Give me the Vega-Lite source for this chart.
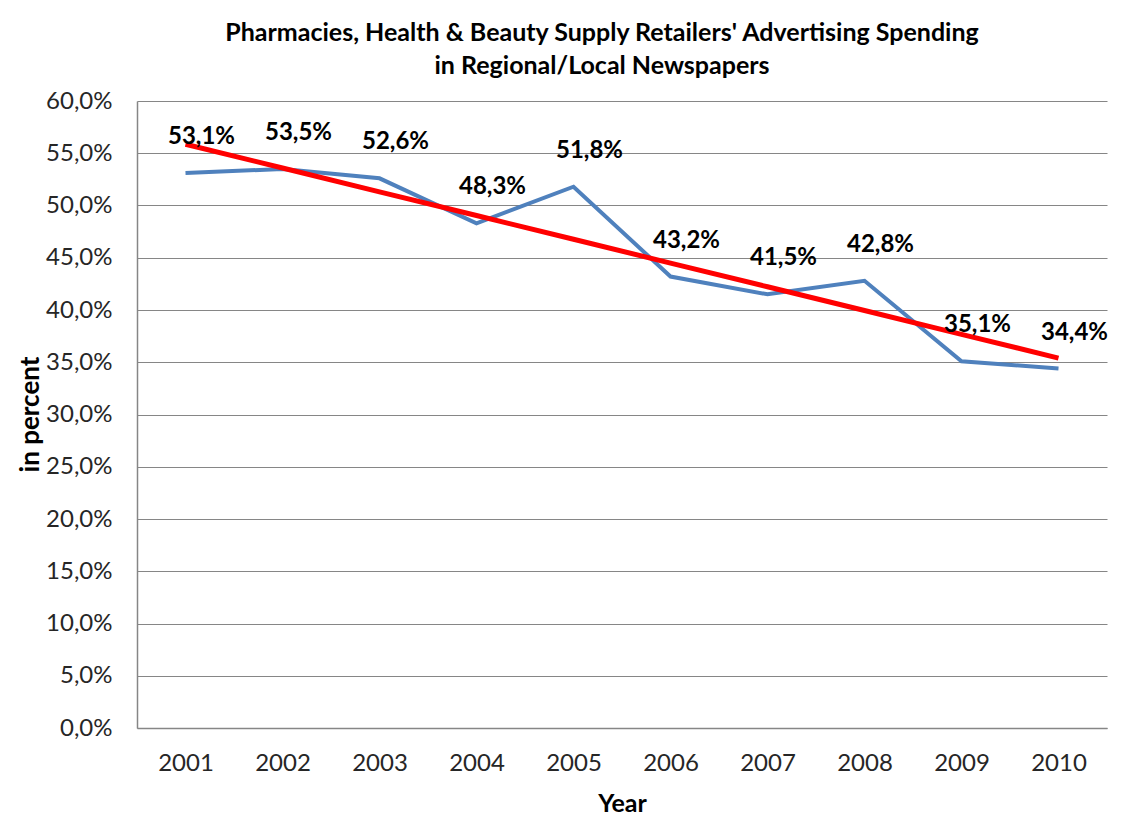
{
  "$schema": "https://vega.github.io/schema/vega-lite/v6.json",
  "width": 970,
  "height": 627,
  "autosize": {"type": "none"},
  "padding": {"left": 137, "top": 101, "right": 15, "bottom": 106},
  "background": "white",
  "title": {
    "text": ["Pharmacies, Health & Beauty Supply Retailers' Advertising Spending", "in Regional/Local Newspapers"],
    "font": "Lato",
    "fontSize": 25,
    "fontWeight": "bold",
    "color": "#000000",
    "anchor": "middle",
    "dx": -20,
    "offset": 10,
    "lineHeight": 33
  },
  "data": {
    "values": [
      {"year": "2001", "value": 0.531, "trend": 0.5586},
      {"year": "2002", "value": 0.535, "trend": 0.5359},
      {"year": "2003", "value": 0.526, "trend": 0.5131},
      {"year": "2004", "value": 0.483, "trend": 0.4904},
      {"year": "2005", "value": 0.518, "trend": 0.4677},
      {"year": "2006", "value": 0.432, "trend": 0.4449},
      {"year": "2007", "value": 0.415, "trend": 0.4222},
      {"year": "2008", "value": 0.428, "trend": 0.3995},
      {"year": "2009", "value": 0.351, "trend": 0.3767},
      {"year": "2010", "value": 0.344, "trend": 0.3540}
    ]
  },
  "encoding": {
    "x": {
      "field": "year",
      "type": "ordinal",
      "scale": {"type": "point", "padding": 0.5},
      "axis": {
        "title": "Year",
        "labelAngle": 0,
        "labelFont": "Lato",
        "labelFontSize": 24,
        "labelColor": "#262626",
        "labelPadding": 23,
        "ticks": false,
        "grid": false,
        "domainColor": "#868686",
        "domainWidth": 1.5,
        "titleFont": "Lato",
        "titleFontSize": 25,
        "titleFontWeight": "bold",
        "titleColor": "#000000",
        "titleX": 485,
        "titleY": 75,
        "titleBaseline": "middle",
        "titleAlign": "center"
      }
    }
  },
  "layer": [
    {
      "mark": {"type": "line", "color": "#4F81BD", "strokeWidth": 4},
      "encoding": {
        "y": {
          "field": "value",
          "type": "quantitative",
          "scale": {"domain": [0, 0.6], "nice": false},
          "axis": {
            "title": "in percent",
            "values": [0, 0.05, 0.1, 0.15, 0.2, 0.25, 0.3, 0.35, 0.4, 0.45, 0.5, 0.55, 0.6],
            "format": ".1%",
            "labelFont": "Lato",
            "labelFontSize": 24,
            "labelColor": "#262626",
            "labelPadding": 25,
            "ticks": false,
            "grid": true,
            "gridColor": "#868686",
            "gridWidth": 1.2,
            "domainColor": "#868686",
            "domainWidth": 1.5,
            "titleFont": "Lato",
            "titleFontSize": 26,
            "titleFontWeight": "bold",
            "titleColor": "#000000",
            "titleX": -107,
            "titleY": 313,
            "titleAngle": -90,
            "titleBaseline": "middle",
            "titleAlign": "center"
          }
        }
      }
    },
    {
      "mark": {"type": "line", "color": "#FF0000", "strokeWidth": 5},
      "encoding": {
        "y": {"field": "trend", "type": "quantitative"}
      }
    },
    {
      "mark": {"type": "text", "font": "Lato", "fontSize": 24, "fontWeight": "bold", "color": "#000000", "dx": 16, "dy": -36, "align": "center", "baseline": "middle"},
      "encoding": {
        "y": {"field": "value", "type": "quantitative"},
        "text": {"field": "value", "type": "quantitative", "format": ".1%"}
      }
    }
  ],
  "config": {
    "locale": {
      "number": {"decimal": ",", "thousands": ".", "grouping": [3], "currency": ["", " €"]}
    },
    "view": {"stroke": null}
  }
}
